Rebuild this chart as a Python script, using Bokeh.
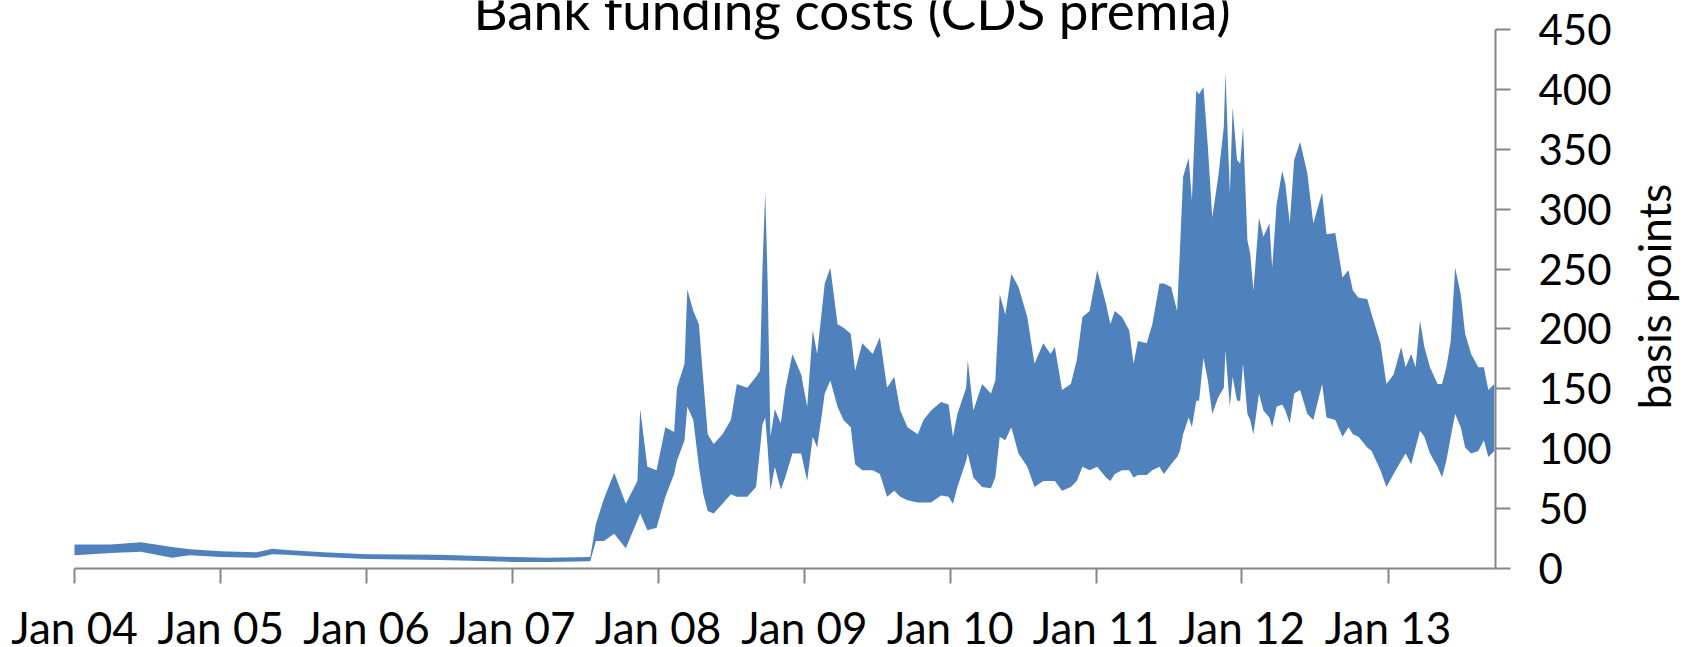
import math
import pandas as pd
from bokeh.plotting import figure
from bokeh.models import ColumnDataSource, Range1d, FixedTicker, DatetimeTickFormatter
from bokeh.core.properties import value
from bokeh.embed import file_html
from bokeh.resources import INLINE

# Bank CDS premia range (basis points): lower and upper envelope over time
dates = [
    "2004-01-01", "2004-04-01", "2004-06-15", "2004-09-01", "2004-10-15",
    "2005-01-01", "2005-04-01", "2005-05-10", "2005-06-15", "2005-09-15",
    "2006-01-01", "2006-07-01", "2007-01-01", "2007-04-01", "2007-07-15",
    "2007-07-29", "2007-08-18", "2007-09-13", "2007-10-12", "2007-11-10",
    "2007-11-17", "2007-12-05", "2007-12-28",
    "2008-01-19", "2008-02-10", "2008-02-17", "2008-03-07", "2008-03-14",
    "2008-03-29", "2008-04-12", "2008-04-23", "2008-05-04", "2008-05-19",
    "2008-06-10", "2008-07-01", "2008-07-16", "2008-08-11", "2008-09-02",
    "2008-09-12", "2008-09-18", "2008-09-25", "2008-10-01", "2008-10-08",
    "2008-10-19", "2008-11-03", "2008-11-14", "2008-12-02", "2008-12-24",
    "2009-01-08", "2009-01-22", "2009-02-02", "2009-02-21", "2009-03-07",
    "2009-03-25", "2009-04-09", "2009-04-27", "2009-05-08", "2009-05-26",
    "2009-06-21", "2009-07-09", "2009-07-27", "2009-08-14", "2009-08-29",
    "2009-09-16", "2009-10-12", "2009-10-26", "2009-11-14", "2009-12-09",
    "2009-12-28",
    "2010-01-08", "2010-01-19", "2010-02-10", "2010-02-14", "2010-02-28",
    "2010-03-22", "2010-04-13", "2010-04-24", "2010-05-05", "2010-05-19",
    "2010-06-03", "2010-06-21", "2010-07-13", "2010-07-31", "2010-08-22",
    "2010-09-09", "2010-09-20", "2010-10-08", "2010-10-30", "2010-11-14",
    "2010-11-28", "2010-12-16",
    "2011-01-04", "2011-01-26", "2011-02-06", "2011-02-17", "2011-03-07",
    "2011-03-25", "2011-04-05", "2011-04-16", "2011-05-08", "2011-05-22",
    "2011-06-09", "2011-06-20", "2011-07-08", "2011-07-23", "2011-07-30",
    "2011-08-07", "2011-08-21", "2011-08-29", "2011-09-09", "2011-09-16",
    "2011-09-27", "2011-10-08", "2011-10-19", "2011-11-03", "2011-11-17",
    "2011-11-21", "2011-12-02", "2011-12-09", "2011-12-20", "2011-12-28",
    "2012-01-04", "2012-01-15", "2012-01-22", "2012-01-30", "2012-02-13",
    "2012-02-24", "2012-03-10", "2012-03-17", "2012-03-28", "2012-04-11",
    "2012-04-19", "2012-04-30", "2012-05-11", "2012-05-26", "2012-06-13",
    "2012-06-28", "2012-07-20", "2012-07-31", "2012-08-22", "2012-09-09",
    "2012-09-24", "2012-10-05", "2012-10-19", "2012-11-10", "2012-11-21",
    "2012-12-13", "2012-12-28",
    "2013-01-15", "2013-02-03", "2013-02-14", "2013-02-28", "2013-03-11",
    "2013-03-22", "2013-04-02", "2013-04-16", "2013-05-05", "2013-05-16",
    "2013-05-27", "2013-06-07", "2013-06-18", "2013-07-02", "2013-07-13",
    "2013-07-28", "2013-08-15", "2013-08-29", "2013-09-09", "2013-09-24",
]

cds_high = [
    20, 20, 22, 18, 16,
    14.5, 13.5, 16.5, 15.5, 13.5,
    12, 11.5, 9.5, 9, 9.5,
    37, 58, 80, 54, 73,
    133, 85, 82,
    118, 114, 151, 171, 233,
    215, 204, 157, 112, 104,
    112, 124, 154, 151, 160,
    165, 250, 314, 240, 110,
    133, 121, 149, 179, 162,
    135, 199, 179, 238, 251,
    204, 201, 196, 165, 188,
    179, 193, 151, 160, 132,
    118, 112, 124, 132, 139,
    137,
    110, 129, 151, 174, 132,
    154, 146, 157, 229, 212,
    246, 235, 210, 171, 188,
    179, 185, 149, 154, 174,
    210, 215,
    249, 221, 204, 215, 210,
    199, 171, 190, 188, 204,
    238, 238, 235, 215, 265,
    327, 343, 307, 399, 396,
    402, 352, 293, 327, 369,
    414, 313, 385, 341, 338,
    369, 274, 263, 232, 293,
    277, 288, 251, 304, 332,
    321, 288, 341, 356, 330,
    288, 314, 279, 280, 243,
    249, 232, 226, 225, 212,
    188, 154,
    162, 185, 168, 179, 168,
    207, 185, 168, 154, 154,
    168, 190, 251, 229, 196,
    179, 168, 168, 149, 154,
]

cds_low = [
    11, 13, 14, 9, 11,
    9.5, 9, 12, 11.5, 9.5,
    8, 7, 5.5, 5.5, 6,
    23, 23, 29, 17, 40,
    46, 32, 34,
    60, 79, 90, 107, 135,
    124, 85, 62, 48, 46,
    54, 62, 60, 60, 68,
    100, 120, 126, 101, 65,
    85, 66, 76, 96, 96,
    73, 110, 101, 146, 157,
    135, 124, 118, 87, 82,
    82, 79, 60, 65, 60,
    57, 55, 55, 55, 61,
    60,
    54, 68, 90, 96, 76,
    68, 67, 76, 110, 107,
    118, 96, 85, 68, 73,
    73, 73, 65, 68, 73,
    85, 82,
    85, 76, 73, 79, 82,
    82, 76, 78, 78, 82,
    85, 79, 87, 93, 98,
    112, 126, 118, 140, 140,
    176, 157, 129, 143, 151,
    182, 135, 160, 140, 140,
    171, 129, 124, 112, 146,
    132, 126, 118, 135, 137,
    132, 121, 146, 149, 129,
    124, 154, 126, 124, 110,
    118, 112, 110, 101, 98,
    82, 68,
    79, 90, 96, 87, 101,
    115, 110, 96, 85, 76,
    90, 110, 129, 118, 101,
    96, 98, 107, 93, 98,
]

year_ticks = list(range(2004, 2014))
y_ticks = list(range(0, 451, 50))
Y_MAX = 450
START, END = "2004-01-01", "2013-09-27"

TITLE = "Bank funding costs (CDS premia)"
Y_LABEL = "basis points"
FONT = "Lato"
BLUE = "#4f81bd"
AXIS_GREY = "#868686"

# page size and where the axes box sits on it (pixels from top-left)
W, H = 1686, 647
BOX_L, BOX_R, BOX_T, BOX_B = 74, 1495, 29, 568


def ms(ts):
    return pd.Timestamp(ts).timestamp() * 1000.0


x0, x1 = ms(START), ms(END)
px_per_ms = (BOX_R - BOX_L) / (x1 - x0)
px_per_bp = (BOX_B - BOX_T) / Y_MAX


def data_x(px):
    return x0 + (px - BOX_L) / px_per_ms


def data_y(py):
    return (BOX_B - py) / px_per_bp


source = ColumnDataSource(dict(
    date=pd.to_datetime(dates),
    high=cds_high,
    low=cds_low,
))

# the plotting frame fills the whole page; the axes are pinned to the data box
p = figure(
    width=W, height=H,
    x_range=Range1d(data_x(0), data_x(W)),
    y_range=Range1d(data_y(H), data_y(0)),
    x_axis_type="datetime",
    y_axis_location="right",
    output_backend="svg",
    toolbar_location=None,
    min_border=0, min_border_left=0, min_border_right=0,
    min_border_top=0, min_border_bottom=0,
)
p.outline_line_color = None
p.background_fill_color = "white"
p.border_fill_color = "white"
p.xgrid.visible = False
p.ygrid.visible = False

p.varea(x="date", y1="low", y2="high", source=source, color=BLUE)

# bottom date axis: a tick at every January
xa = p.xaxis[0]
xa.fixed_location = 0
xa.bounds = (x0, x1)
xa.ticker = FixedTicker(ticks=[ms(f"{y}-01-01") for y in year_ticks])
fmt = "Jan %y"
xa.formatter = DatetimeTickFormatter(
    years=fmt, months=fmt, days=fmt, hours=fmt, hourmin=fmt, minutes=fmt,
    minsec=fmt, seconds=fmt, milliseconds=fmt, microseconds=fmt)
xa.axis_line_color = AXIS_GREY
xa.axis_line_width = 2
xa.major_tick_line_color = AXIS_GREY
xa.major_tick_line_width = 2
xa.major_tick_out = 15
xa.major_tick_in = 0
xa.minor_tick_line_color = None
xa.major_label_text_font = FONT
xa.major_label_text_font_size = "44px"
xa.major_label_text_color = "black"
xa.major_label_standoff = 17

# value axis on the right of the data box
ya = p.yaxis[0]
ya.fixed_location = x1
ya.bounds = (0, Y_MAX)
ya.ticker = FixedTicker(ticks=y_ticks)
ya.axis_line_color = AXIS_GREY
ya.axis_line_width = 2
ya.major_tick_line_color = AXIS_GREY
ya.major_tick_line_width = 2
ya.major_tick_out = 15
ya.major_tick_in = 0
ya.minor_tick_line_color = None
ya.major_label_text_font = FONT
ya.major_label_text_font_size = "42px"
ya.major_label_text_color = "black"
ya.major_label_standoff = 28

# title (running off the top edge) and the rotated unit label
p.text(x=[data_x(851.5)], y=[data_y(9)], text=[TITLE],
       text_font=value(FONT), text_font_size="53px", text_color="black",
       text_align="center", text_baseline="alphabetic")
p.text(x=[data_x(1653)], y=[data_y(296)], text=[Y_LABEL], angle=math.pi / 2,
       text_font=value(FONT), text_font_size="44px", text_color="black",
       text_align="center", text_baseline="alphabetic")

open("out.html", "w").write(file_html(p, INLINE))
